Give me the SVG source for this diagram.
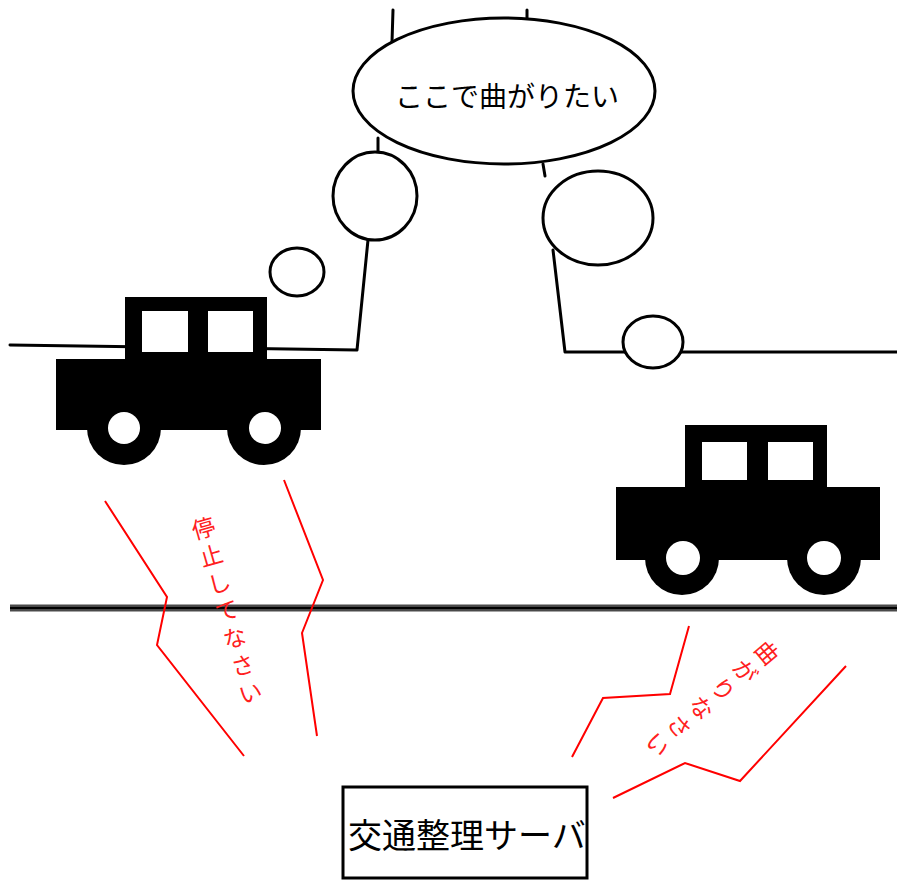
<svg xmlns="http://www.w3.org/2000/svg" width="897" height="882" viewBox="0 0 897 882">
  <style>
    .ln { fill: none; stroke: #000; stroke-width: 3; stroke-linecap: round; stroke-linejoin: round; }
    .bubble { fill: #fff; stroke: #000; stroke-width: 3; }
    .wave { fill: none; stroke: #ff0000; stroke-width: 2; stroke-linejoin: miter; }
    .car { fill: #000; }
    .win { fill: #fff; }
    .hub { fill: #fff; }
    .jp { font-family: "Noto Sans CJK JP", "Noto Sans", sans-serif; }
    .say { font-size: 28px; fill: #000; }
    .order { font-size: 23px; fill: #ff2020; }
    .srv { font-size: 34px; fill: #000; }
  </style>

  <rect width="897" height="882" fill="#fff"/>

  <!-- road edges -->
  <g id="road">
    <polyline class="ln" points="10,345 357,350 368,240"/>
    <polyline class="ln" points="553,250 565,352 897,352"/>
    <line class="ln" x1="393" y1="10" x2="392" y2="42"/>
    <line class="ln" x1="527" y1="10" x2="527" y2="18"/>
    <line class="ln" x1="378" y1="138" x2="378" y2="154"/>
    <line class="ln" x1="543" y1="164" x2="545" y2="176"/>
    <line x1="10" y1="608" x2="897" y2="608" stroke="#4a4a4a" stroke-width="7"/>
    <line x1="10" y1="608" x2="897" y2="608" stroke="#000" stroke-width="2"/>
  </g>

  <!-- thought bubble -->
  <g id="thought">
    <ellipse class="bubble" cx="297" cy="272" rx="27" ry="24"/>
    <ellipse class="bubble" cx="375" cy="196" rx="42" ry="44"/>
    <ellipse class="bubble" cx="598" cy="218" rx="55" ry="47"/>
    <ellipse class="bubble" cx="653" cy="342" rx="30" ry="26"/>
    <ellipse class="bubble" cx="504" cy="91" rx="151" ry="73"/>
    <text class="jp say" x="507" y="107" text-anchor="middle">ここで曲がりたい</text>
  </g>

  <!-- car waiting -->
  <g id="car-left">
    <rect class="car" x="125" y="297" width="142" height="63"/>
    <rect class="car" x="56" y="359" width="265" height="71"/>
    <rect class="win" x="142" y="311" width="46" height="41"/>
    <rect class="win" x="208" y="311" width="45" height="41"/>
    <circle class="car" cx="124" cy="428" r="37"/>
    <circle class="car" cx="264" cy="428" r="37"/>
    <circle class="hub" cx="124" cy="428" r="16"/>
    <circle class="hub" cx="265" cy="428" r="16"/>
  </g>

  <!-- car turning -->
  <g id="car-right">
    <rect class="car" x="685" y="425" width="142" height="63"/>
    <rect class="car" x="616" y="487" width="264" height="73"/>
    <rect class="win" x="702" y="442" width="45" height="38"/>
    <rect class="win" x="768" y="442" width="45" height="38"/>
    <circle class="car" cx="682" cy="558" r="37"/>
    <circle class="car" cx="824" cy="558" r="37"/>
    <circle class="hub" cx="683" cy="558" r="17"/>
    <circle class="hub" cx="824" cy="558" r="17"/>
  </g>

  <!-- server -->
  <g id="server">
    <rect x="343" y="787" width="244" height="91" fill="#fff" stroke="#000" stroke-width="3"/>
    <text class="jp srv" x="348" y="848">交通整理サーバ</text>
  </g>

  <!-- radio links -->
  <g id="connectors">
    <polyline class="wave" points="105,501 167,597 157,645 244,756"/>
    <polyline class="wave" points="284,480 323,580 302,633 317,736"/>
    <polyline class="wave" points="689,626 670,694 603,698 572,757"/>
    <polyline class="wave" points="846,666 740,781 685,763 613,798"/>
    <text class="jp order" transform="translate(203,527) rotate(-16)" text-anchor="middle" dominant-baseline="central" x="0 0 0 0 0 0 0" y="0 28.5 57 85.5 114 142.5 171">停止してなさい</text>
    <text class="jp order" transform="translate(768,652) rotate(50)" text-anchor="middle" dominant-baseline="central" x="0 0 0 0 0 0" y="0 28.5 57 85.5 114 142.5">曲がりなさい</text>
  </g>
</svg>
